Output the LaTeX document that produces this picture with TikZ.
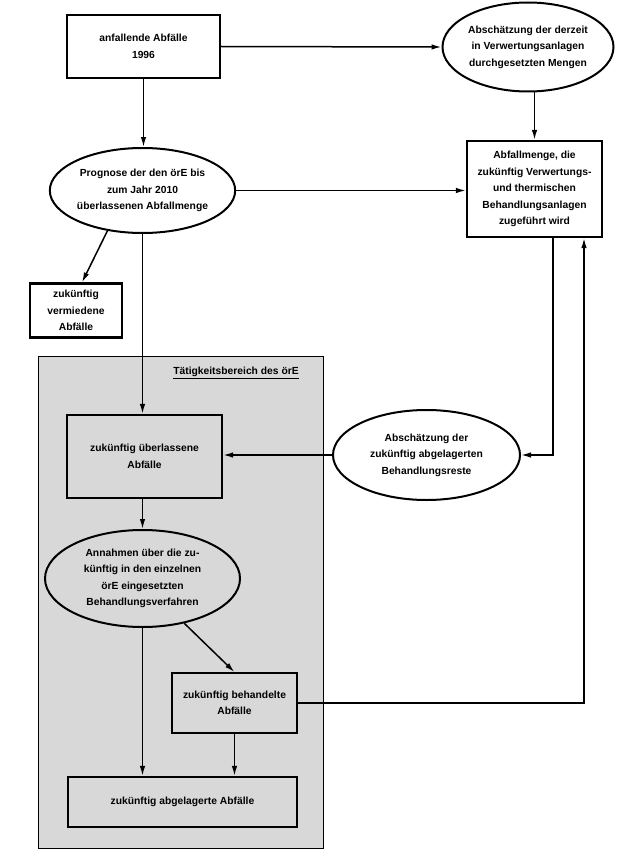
\documentclass[tikz,border=0pt]{standalone}
\usepackage{fontspec}
\setmainfont{Liberation Sans}
\usetikzlibrary{shapes.geometric,arrows.meta,calc}
\tikzset{
  boxnode/.style={draw, line width=2.2pt, rectangle, align=center, inner sep=2pt, font=\bfseries\fontsize{10.3}{16.5}\selectfont},
  ellnode/.style={draw, line width=2pt, ellipse, align=center, inner sep=0pt, font=\bfseries\fontsize{10.3}{16.5}\selectfont},
  arr/.style={line width=1.5pt, -{Latex[length=10pt,width=5.5pt]}},
  plain/.style={line width=1.5pt}
}
\begin{document}
\begin{tikzpicture}[x=1pt,y=-1pt]
\useasboundingbox (0,0) rectangle (636,864);
\fill[white] (0,0) rectangle (636,864);
% grey area
\draw[line width=1pt, fill={rgb,255:red,216;green,216;blue,216}] (38,356) rectangle (323,848);
\node[font=\bfseries\fontsize{10.3}{12}\selectfont, inner sep=0pt] (title) at (236,373) {\underline{Tätigkeitsbereich des örE}};

\node[boxnode, minimum width=153pt, minimum height=63pt] (box1) at (143.5,46.5) {anfallende Abfälle\\1996};
\node[ellnode, minimum width=171pt, minimum height=89pt] (ellE) at (528,47) {Abschätzung der derzeit\\in Verwertungsanlagen\\durchgesetzten Mengen};
\node[boxnode, minimum width=135pt, minimum height=96pt] (boxA) at (534.5,189) {Abfallmenge, die\\zukünftig Verwertungs-\\und thermischen\\Behandlungsanlagen\\zugeführt wird};
\node[ellnode, minimum width=181pt, minimum height=85pt] (ellP) at (142.5,190.5) {Prognose der den örE bis\\zum Jahr 2010\\überlassenen Abfallmenge};
\node[boxnode, minimum width=92pt, minimum height=54pt] (boxV) at (76,310.5) {zukünftig\\vermiedene\\Abfälle};
\node[boxnode, minimum width=155pt, minimum height=83pt] (boxU) at (144.5,456.5) {zukünftig überlassene\\Abfälle};
\node[ellnode, minimum width=187pt, minimum height=90pt] (ellB) at (426.5,455) {Abschätzung der\\zukünftig abgelagerten\\Behandlungsreste};
\node[ellnode, minimum width=195pt, minimum height=97pt] (ellN) at (142.5,578.5) {Annahmen über die zu-\\künftig in den einzelnen\\örE eingesetzten\\Behandlungsverfahren};
\node[boxnode, line width=1.8pt, minimum width=125pt, minimum height=60pt] (boxT) at (234.5,703) {zukünftig behandelte\\Abfälle};
\node[boxnode, minimum width=229pt, minimum height=50pt] (boxZ) at (182.5,802) {zukünftig abgelagerte Abfälle};

% connectors
\draw[arr] (box1.east) -- (ellE.west);
\draw[arr] (ellE.south -| boxA.north) -- (boxA.north);
\draw[arr] (box1.south) -- (box1.south |- ellP.north);
\draw[arr] (ellP.east) -- (ellP.east -| boxA.west);
\draw[arr] (ellP.229) -- ([xshift=6pt]boxV.north);
\draw[arr] (ellP.south) -- (ellP.south |- boxU.north);
\draw[arr] (ellB.west) -- (ellB.west -| boxU.east);
\draw[arr] ([xshift=18.5pt]boxA.south) |- (ellB.east);
\draw[arr] (boxT.east) -| ([xshift=49.5pt]boxA.south);
\draw[arr] (boxU.south -| ellN.north) -- (ellN.north);
\draw[arr] (ellN.south) -- (ellN.south |- boxZ.north);
\draw[arr] (ellN.313) -- (boxT.north);
\draw[arr] (boxT.south) -- (boxT.south |- boxZ.north);
\end{tikzpicture}
\end{document}
